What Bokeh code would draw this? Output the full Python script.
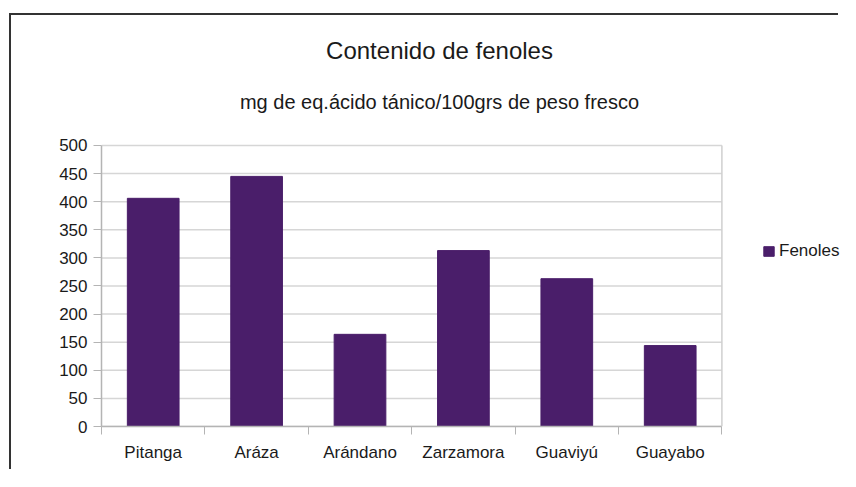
import numpy as np
from bokeh.plotting import figure
from bokeh.models import Range1d, FixedTicker, Label, Legend, LegendItem, ColumnDataSource
from bokeh.embed import file_html
from bokeh.resources import INLINE

categories = ["Pitanga", "Aráza", "Arándano", "Zarzamora", "Guaviyú", "Guayabo"]
fenoles = [406, 445, 164, 313, 263, 144]
y_ticks = [0, 50, 100, 150, 200, 250, 300, 350, 400, 450, 500]
title_text = "Contenido de fenoles"
subtitle_text = "mg de eq.ácido tánico/100grs de peso fresco"
series_name = "Fenoles"

FONT = "Liberation Sans"
BAR = "#4a1e6a"
GRID = "#d6d6d6"
AXIS = "#b4b4b4"
TXT = "#1a1a1a"

n = len(categories)
xc = np.arange(n) + 0.5
src = ColumnDataSource(dict(x=xc, top=fenoles, cat=categories))
ymax = y_ticks[-1]

# frame extends over the whole canvas right/top so titles and legend are not clipped
p = figure(width=829, height=456, output_backend="svg", toolbar_location=None,
           x_range=Range1d(0, 7.147), y_range=Range1d(0, 731.3),
           min_border_left=90, min_border_right=0, min_border_top=0, min_border_bottom=45)
p.margin = (13, 0, 0, 9)
p.styles = {"border-top": "2px solid #333333", "border-left": "2px solid #333333"}
p.outline_line_color = None
p.xgrid.grid_line_color = None
p.ygrid.grid_line_color = None

# horizontal gridlines across the category span
p.segment(x0=[0] * len(y_ticks), x1=[n] * len(y_ticks), y0=y_ticks, y1=y_ticks,
          line_color=GRID, line_width=1.5)
# right edge of plot area
p.segment(x0=[n], x1=[n], y0=[0], y1=[ymax], line_color="#cfcfcf", line_width=1.5)

r = p.vbar(x="x", top="top", width=0.5, bottom=0, source=src, fill_color=BAR, line_color=BAR)

p.add_layout(Label(x=3.269, y=669, text=title_text, text_align="center",
                   text_baseline="middle", text_font=FONT, text_font_size="24px",
                   text_color=TXT))
p.add_layout(Label(x=3.269, y=578, text=subtitle_text, text_align="center",
                   text_baseline="middle", text_font=FONT, text_font_size="20px",
                   text_color=TXT))

# y axis
p.yaxis.bounds = (0, ymax)
p.yaxis.ticker = FixedTicker(ticks=y_ticks)
p.yaxis.axis_line_color = AXIS
p.yaxis.axis_line_width = 1.5
p.yaxis.major_tick_line_color = AXIS
p.yaxis.major_tick_out = 8
p.yaxis.major_tick_in = 0
p.yaxis.minor_tick_line_color = None
p.yaxis.major_label_text_font = FONT
p.yaxis.major_label_text_font_size = "17px"
p.yaxis.major_label_text_color = TXT
p.yaxis.major_label_standoff = 6

# x axis
p.xaxis.bounds = (0, n)
p.xaxis.ticker = FixedTicker(ticks=list(xc), minor_ticks=list(range(n + 1)))
p.xaxis.major_label_overrides = {float(x): c for x, c in zip(xc, categories)}
p.xaxis.major_tick_line_color = None
p.xaxis.minor_tick_line_color = AXIS
p.xaxis.minor_tick_out = 8
p.xaxis.minor_tick_in = 0
p.xaxis.axis_line_color = AXIS
p.xaxis.axis_line_width = 1.5
p.xaxis.major_label_text_font = FONT
p.xaxis.major_label_text_font_size = "17px"
p.xaxis.major_label_text_color = TXT
p.xaxis.major_label_standoff = 8

legend = Legend(items=[LegendItem(label=series_name, renderers=[r])], location=(661, 165),
                border_line_color=None, background_fill_alpha=0,
                label_text_font=FONT, label_text_font_size="17px", label_text_color=TXT,
                glyph_width=13, glyph_height=12, padding=0, margin=0, label_standoff=4,
                label_height=18)
p.add_layout(legend, "center")

open("out.html", "w").write(file_html(p, INLINE))
